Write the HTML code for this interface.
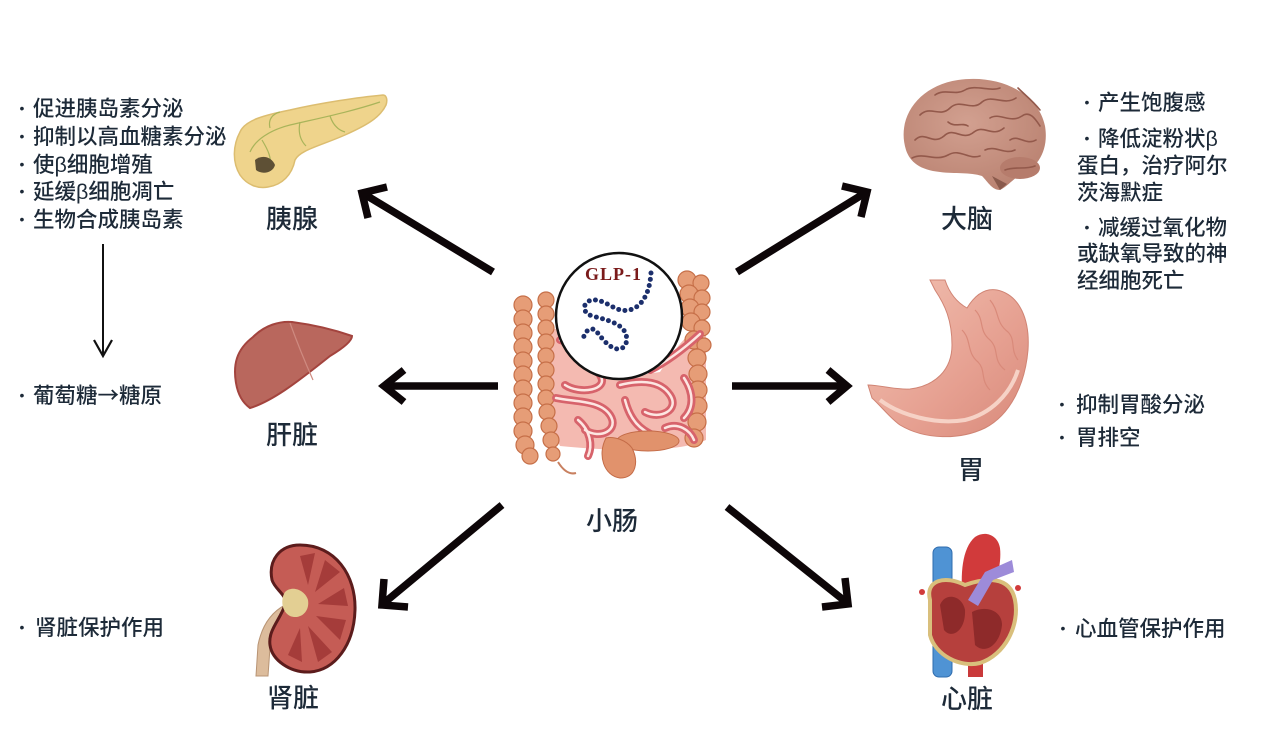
<!DOCTYPE html>
<html><head><meta charset="utf-8">
<style>
html,body{margin:0;padding:0;background:#fff;}
svg{display:block;}
text{font-family:"Liberation Sans","Noto Sans CJK SC",sans-serif;fill:#1d2a38;font-weight:500;}
.li{font-size:21.5px;}
.lb{font-size:26px;}
.bu{font-size:14px;text-anchor:middle;}
</style></head><body>
<svg width="1280" height="748" viewBox="0 0 1280 748" xmlns="http://www.w3.org/2000/svg">
<defs>
<linearGradient id="stg" x1="0" y1="0" x2="1" y2="1">
<stop offset="0" stop-color="#f2c2b3"/><stop offset="0.6" stop-color="#e6a091"/><stop offset="1" stop-color="#d8897a"/>
</linearGradient>
<radialGradient id="brg" cx="0.45" cy="0.4" r="0.7">
<stop offset="0" stop-color="#d2a090"/><stop offset="1" stop-color="#b8806f"/>
</radialGradient>
</defs>
<rect width="1280" height="748" fill="#fff"/>

<!-- LEFT LIST -->
<text class="bu" x="22" y="113">•</text><text class="li" x="33" y="116">促进胰岛素分泌</text>
<text class="bu" x="22" y="141">•</text><text class="li" x="33" y="144">抑制以高血糖素分泌</text>
<text class="bu" x="22" y="169">•</text><text class="li" x="33" y="172">使β细胞增殖</text>
<text class="bu" x="22" y="196">•</text><text class="li" x="33" y="199">延缓β细胞凋亡</text>
<text class="bu" x="22" y="224">•</text><text class="li" x="33" y="227">生物合成胰岛素</text>

<!-- thin arrow -->
<line x1="103" y1="244" x2="103" y2="356" stroke="#111" stroke-width="2"/>
<polyline points="94,340 103,356 112,340" fill="none" stroke="#111" stroke-width="2.2"/>

<text class="bu" x="22" y="400">•</text><text class="li" x="33" y="403">葡萄糖<tspan style="font-family:'Noto Sans CJK SC',sans-serif">→</tspan>糖原</text>
<text class="bu" x="22" y="632">•</text><text class="li" x="35" y="635">肾脏保护作用</text>

<!-- RIGHT TEXT -->
<text class="bu" x="1087" y="107">•</text><text class="li" x="1098" y="110">产生饱腹感</text>
<text class="bu" x="1087" y="143">•</text><text class="li" x="1098" y="146">降低淀粉状β</text>
<text class="li" x="1077" y="173">蛋白，治疗阿尔</text>
<text class="li" x="1077" y="200">茨海默症</text>
<text class="bu" x="1087" y="232">•</text><text class="li" x="1098" y="235">减缓过氧化物</text>
<text class="li" x="1077" y="261">或缺氧导致的神</text>
<text class="li" x="1077" y="288">经细胞死亡</text>

<text class="bu" x="1062" y="409">•</text><text class="li" x="1076" y="412">抑制胃酸分泌</text>
<text class="bu" x="1062" y="442">•</text><text class="li" x="1076" y="445">胃排空</text>
<text class="bu" x="1063" y="633">•</text><text class="li" x="1075" y="636">心血管保护作用</text>

<!-- LABELS -->
<text class="lb" x="266" y="228">胰腺</text>
<text class="lb" x="941" y="228">大脑</text>
<text class="lb" x="266" y="444">肝脏</text>
<text class="lb" x="958" y="479">胃</text>
<text class="lb" x="586" y="530">小肠</text>
<text class="lb" x="267" y="707">肾脏</text>
<text class="lb" x="941" y="708">心脏</text>

<!-- BIG ARROWS -->
<g fill="none" stroke="#0d0608" stroke-width="7.5" stroke-linejoin="miter" stroke-miterlimit="10">
<line x1="493" y1="272" x2="364" y2="194"/>
<polyline points="387,187 362,193 368,218"/>
<line x1="737" y1="272" x2="865" y2="193"/>
<polyline points="842,186 867,192 861,217"/>
<line x1="498" y1="386" x2="386" y2="386"/>
<polyline points="404,370 384,386 404,402"/>
<line x1="732" y1="386" x2="844" y2="386"/>
<polyline points="828,370 847,386 828,402"/>
<line x1="502" y1="505" x2="384" y2="603"/>
<polyline points="384,579 382,605 408,607"/>
<line x1="727" y1="507" x2="846" y2="602"/>
<polyline points="845,578 848,604 822,607"/>
</g>

<!-- PANCREAS -->
<path d="M383,95 C360,97 320,103 290,110 C265,115 245,120 240,132 C233,145 232,162 240,175 C247,185 258,189 268,187 C282,185 292,175 295,160 C300,150 320,146 345,135 C365,126 380,118 386,105 C388,99 386,95 383,95 Z" fill="#efd48c" stroke="#dcbd70" stroke-width="1.5"/>
<g fill="none" stroke="#a9b45a" stroke-width="1.2">
<path d="M380,102 C350,112 320,118 290,125 C270,130 255,140 250,152"/>
<path d="M330,116 C333,125 338,130 345,132"/>
<path d="M300,122 C298,132 300,140 306,146"/>
<path d="M270,128 C268,120 272,114 280,112"/>
<path d="M262,140 C268,150 272,158 270,168"/>
</g>
<path d="M255,160 C262,154 272,157 275,165 C273,173 262,175 256,170 Z" fill="#5e5035"/>

<!-- BRAIN -->
<path d="M906,150 C896,118 918,86 958,80 C998,74 1038,92 1045,126 C1049,150 1038,168 1020,175 C1012,180 1008,186 1000,190 C992,190 988,182 982,176 C970,172 955,174 940,172 C920,170 910,162 906,150 Z" fill="url(#brg)"/>
<ellipse cx="1020" cy="168" rx="20" ry="11" fill="#b67c6c"/>
<g fill="none" stroke="#93594b" stroke-width="1.6" stroke-linecap="round">
<path d="M915,140 C925,130 932,146 944,136 C954,126 962,142 974,132 C984,124 992,138 1004,128"/>
<path d="M920,115 C930,105 940,118 950,108 C960,98 972,112 982,102 C992,94 1004,106 1016,98"/>
<path d="M935,95 C945,88 955,96 965,90 C975,84 990,92 1000,88"/>
<path d="M912,158 C925,152 935,162 948,155 C960,148 968,160 980,156"/>
<path d="M990,118 C1000,112 1010,124 1022,116 C1030,110 1036,120 1040,126"/>
<path d="M1010,140 C1018,134 1026,146 1036,140"/>
<path d="M948,122 C955,128 962,122 968,126"/>
<path d="M1018,88 C1026,96 1032,100 1040,110"/>
<path d="M985,150 C995,145 1005,155 1015,150"/>
<path d="M1005,170 C1015,166 1025,170 1035,166"/>
</g>
<path d="M992,176 L1000,190 L1007,184" fill="#8a5a4c"/>

<!-- LIVER -->
<path d="M253,337 C265,325 280,321 292,322 C315,325 335,330 352,336 C352,342 340,350 330,356 C315,368 300,380 285,390 C270,400 260,405 250,408 C243,403 238,395 236,383 C233,365 236,350 253,337 Z" fill="#b9675d" stroke="#a3443e" stroke-width="2"/>
<path d="M290,323 C298,345 305,362 313,380" stroke="#cf8a80" stroke-width="1.2" fill="none"/>

<!-- STOMACH -->
<path d="M930,280 L945,280 C950,295 958,303 967,308 C975,295 985,288 997,290 C1020,295 1030,320 1028,350 C1025,385 1010,415 985,428 C960,440 925,440 900,425 C890,418 880,405 872,398 L868,385 C880,385 895,390 910,389 C935,386 952,370 952,345 C952,320 945,305 935,290 Z" fill="url(#stg)" stroke="#d08474" stroke-width="1"/>
<path d="M880,400 C900,415 935,425 965,420 C990,414 1010,395 1018,370" fill="none" stroke="#f6d2c6" stroke-width="4"/>
<g fill="none" stroke="#d98a7a" stroke-width="1.2">
<path d="M975,310 C985,320 978,330 990,340 C1000,350 992,360 1005,370"/>
<path d="M990,300 C1000,312 995,322 1008,332 C1016,340 1010,350 1018,360"/>
<path d="M962,330 C972,340 966,352 978,362 C986,370 980,380 990,390"/>
</g>

<!-- KIDNEY -->
<path d="M285,605 C272,612 262,625 258,645 L256,676 L268,676 L270,648 C273,632 280,622 292,615 Z" fill="#dcbc9c" stroke="#b89474" stroke-width="1"/>
<path d="M300,545 C335,545 356,575 355,610 C354,645 335,670 310,672 C290,673 272,660 270,645 C268,630 280,620 285,605 C288,595 275,590 272,580 C268,560 280,545 300,545 Z" fill="#c55c55" stroke="#5c1c1c" stroke-width="3"/>
<g fill="#a53c3a">
<path d="M300,556 L315,553 L308,585 Z"/>
<path d="M325,560 L340,572 L315,592 Z"/>
<path d="M344,588 L348,606 L318,604 Z"/>
<path d="M346,620 L340,640 L316,616 Z"/>
<path d="M332,652 L318,662 L308,626 Z"/>
<path d="M302,662 L288,655 L300,628 Z"/>
</g>
<path d="M285,592 C292,585 305,590 308,600 C310,612 300,620 290,616 C282,612 280,600 285,592 Z" fill="#e3cf93"/>

<!-- HEART -->
<rect x="933" y="547" width="19" height="130" rx="6" fill="#4f93d4" stroke="#2f6cae" stroke-width="1"/>
<rect x="968" y="648" width="15" height="29" fill="#c9393a"/>
<path d="M963,600 C960,575 962,548 975,537 C985,530 998,535 1000,548 C1002,565 995,585 990,600 Z" fill="#d13a3b"/>
<path d="M930,600 C925,580 945,575 965,585 C985,578 1010,575 1015,600 C1020,625 1005,655 980,663 C960,668 935,655 930,635 Z" fill="#b6403d" stroke="#d9bf7c" stroke-width="4"/>
<path d="M940,605 C945,592 962,595 965,610 C966,630 952,640 944,630 Z" fill="#8e2a2a"/>
<path d="M972,612 C985,605 1002,610 1002,625 C1000,645 985,655 975,645 Z" fill="#8e2a2a"/>
<path d="M968,600 L985,572 L1012,560 L1014,572 L993,580 L978,606 Z" fill="#9d8bd9"/>
<circle cx="922" cy="592" r="3" fill="#d13a3b"/><circle cx="1018" cy="588" r="3" fill="#d13a3b"/>

<!-- INTESTINE -->
<path d="M552,330 C580,320 600,345 620,378 L660,372 C680,340 700,320 706,330 L706,440 C680,452 620,452 560,446 C548,420 548,360 552,330 Z" fill="#f4bab1"/>
<g fill="#e69d77" stroke="#c66f48" stroke-width="1.2">
<circle cx="523" cy="305" r="9"/><circle cx="523" cy="319" r="9"/><circle cx="523" cy="333" r="9"/><circle cx="523" cy="347" r="9"/><circle cx="523" cy="361" r="9"/><circle cx="523" cy="375" r="9"/><circle cx="523" cy="389" r="9"/><circle cx="523" cy="403" r="9"/><circle cx="523" cy="417" r="9"/><circle cx="523" cy="431" r="9"/><circle cx="525" cy="445" r="9"/><circle cx="530" cy="456" r="8"/>
<circle cx="546" cy="300" r="8"/><circle cx="546" cy="314" r="8"/><circle cx="546" cy="328" r="8"/><circle cx="546" cy="342" r="8"/><circle cx="546" cy="356" r="8"/><circle cx="546" cy="370" r="8"/><circle cx="546" cy="384" r="8"/><circle cx="546" cy="398" r="8"/><circle cx="547" cy="412" r="8"/><circle cx="549" cy="426" r="8"/><circle cx="551" cy="440" r="8"/><circle cx="553" cy="454" r="7"/>
<circle cx="687" cy="280" r="9"/><circle cx="701" cy="283" r="8"/><circle cx="689" cy="294" r="9"/><circle cx="702" cy="298" r="8"/><circle cx="690" cy="308" r="9"/><circle cx="702" cy="312" r="8"/>
<circle cx="691" cy="322" r="9"/><circle cx="702" cy="328" r="8"/><circle cx="694" cy="340" r="9"/><circle cx="704" cy="345" r="7"/><circle cx="697" cy="358" r="9"/><circle cx="698" cy="374" r="9"/><circle cx="698" cy="390" r="9"/><circle cx="698" cy="406" r="9"/><circle cx="697" cy="422" r="9"/><circle cx="694" cy="438" r="9"/>
</g>
<g fill="none" stroke-linecap="round">
<g stroke="#d7636b" stroke-width="8">
<path d="M560,340 C580,345 590,360 600,375 C610,390 580,395 565,385"/>
<path d="M556,398 C575,402 600,400 610,415 C620,430 600,440 585,430"/>
<path d="M620,385 C640,380 660,380 670,395 C680,410 660,420 645,412"/>
<path d="M650,370 C670,360 688,345 700,334"/>
<path d="M665,428 C678,422 690,430 694,440"/>
<path d="M578,420 C590,430 593,445 588,456"/>
<path d="M684,378 C694,393 694,408 684,418"/>
<path d="M625,400 C630,420 640,430 655,436"/>
<path d="M600,340 C615,352 630,360 648,358"/>
</g>
<g stroke="#fde6e2" stroke-width="2.5">
<path d="M560,340 C580,345 590,360 600,375 C610,390 580,395 565,385"/>
<path d="M556,398 C575,402 600,400 610,415 C620,430 600,440 585,430"/>
<path d="M620,385 C640,380 660,380 670,395 C680,410 660,420 645,412"/>
<path d="M650,370 C670,360 688,345 700,334"/>
<path d="M665,428 C678,422 690,430 694,440"/>
<path d="M578,420 C590,430 593,445 588,456"/>
<path d="M684,378 C694,393 694,408 684,418"/>
<path d="M625,400 C630,420 640,430 655,436"/>
<path d="M600,340 C615,352 630,360 648,358"/>
</g>
</g>
<ellipse cx="648" cy="441" rx="31" ry="10" fill="#e1926c" stroke="#c46c48" stroke-width="1"/>
<path d="M606,438 C597,455 604,476 620,478 C636,478 639,462 632,448 C626,440 614,436 606,438 Z" fill="#e1926c" stroke="#c46c48" stroke-width="1"/>
<path d="M558,462 C563,470 569,475 576,473" fill="none" stroke="#c88060" stroke-width="2"/>

<!-- GLP-1 circle -->
<circle cx="619" cy="316" r="63" fill="#fff" stroke="#111" stroke-width="2.5"/>
<text x="585" y="280" style="font-family:'Liberation Serif',serif;font-weight:bold;font-size:18px;fill:#7a1a1a;letter-spacing:1px">GLP-1</text>
<path d="M651,273 C650,285 648,295 640,304 C632,312 622,312 613,307 C604,302 596,298 589,301 C582,305 583,313 592,316 C603,319 614,321 622,328 C629,335 628,347 620,349 C611,350 603,340 597,332 C592,326 586,330 584,336 L582,342" fill="none" stroke="#1c2f6c" stroke-width="5" stroke-linecap="round" stroke-dasharray="0 6.3"/>
</svg>
</body></html>
